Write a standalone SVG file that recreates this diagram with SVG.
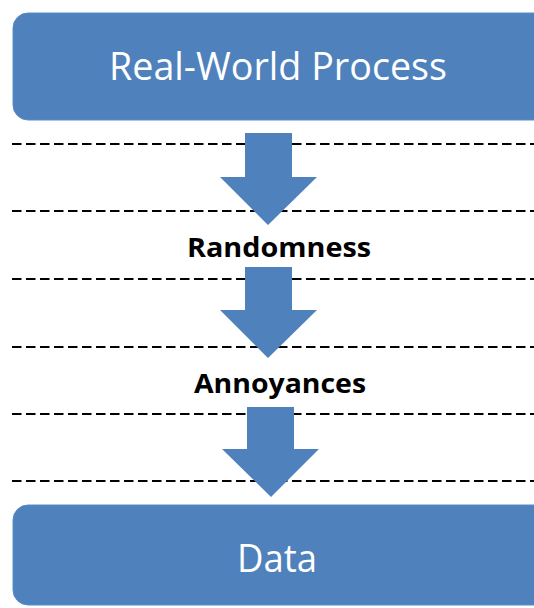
<svg xmlns="http://www.w3.org/2000/svg" width="534" height="608" viewBox="0 0 534 608">
<style>
.box{fill:#4f81bd;stroke:#5b8cc6;stroke-width:1}
.big{font-family:"Open Sans","Noto Sans","Liberation Sans",sans-serif;font-size:39px;fill:#ffffff;text-anchor:middle}
.lbl{font-family:"Open Sans","Noto Sans","Liberation Sans",sans-serif;font-size:26px;font-weight:bold;fill:#000000;text-anchor:middle}
.dash{stroke:#000000;stroke-width:2;stroke-dasharray:9.5 4.5;fill:none}
.arrow{fill:#4f81bd}
</style>
<rect width="534" height="608" fill="#ffffff"/>
<g id="guides">
<line class="dash" x1="12" y1="144" x2="534" y2="144"/>
<line class="dash" x1="12" y1="211" x2="534" y2="211"/>
<line class="dash" x1="12" y1="279" x2="534" y2="279"/>
<line class="dash" x1="12" y1="347" x2="534" y2="347"/>
<line class="dash" x1="12" y1="414" x2="534" y2="414"/>
<line class="dash" x1="12" y1="481" x2="534" y2="481"/>
</g>
<g id="connectors">
<polygon class="arrow" points="245,133 292,133 292,177 317,177 268,225 220,177 245,177"/>
<polygon class="arrow" points="245,267 292,267 292,310 317,310 268,358 220,310 245,310"/>
<polygon class="arrow" points="247,407 294,407 294,449 319,449 271,497 222,449 247,449"/>
</g>
<g id="real-world-process">
<rect class="box" x="13" y="13" width="540" height="107" rx="15" ry="15"/>
<text class="big" x="278" y="80" textLength="338" lengthAdjust="spacingAndGlyphs">Real-World Process</text>
</g>
<g id="randomness">
<text class="lbl" x="279" y="257" textLength="184" lengthAdjust="spacingAndGlyphs">Randomness</text>
</g>
<g id="annoyances">
<text class="lbl" x="280" y="393" textLength="172" lengthAdjust="spacingAndGlyphs">Annoyances</text>
</g>
<g id="data">
<rect class="box" x="13" y="505" width="540" height="100" rx="15" ry="15"/>
<text class="big" x="277" y="572" textLength="80" lengthAdjust="spacingAndGlyphs">Data</text>
</g>
</svg>
